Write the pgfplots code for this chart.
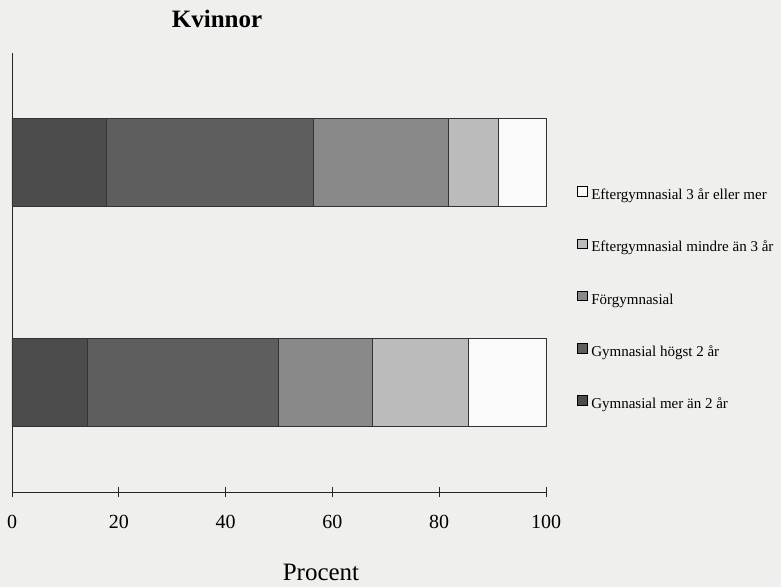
\documentclass[border=0pt]{standalone}
\usepackage{pgfplots}
\pgfplotsset{compat=1.18}
\usepackage{fontspec}
\setmainfont{Liberation Serif}
\definecolor{bg}{HTML}{EFEFED}
\definecolor{ga}{HTML}{4C4C4C}
\definecolor{gb}{HTML}{5E5E5E}
\definecolor{gc}{HTML}{898989}
\definecolor{gd}{HTML}{BBBBBB}
\definecolor{ge}{HTML}{FAFAFA}
\begin{document}
\begin{tikzpicture}[x=1pt,y=1pt]
\fill[bg] (0,0) rectangle (781,-587);
\useasboundingbox (0,0) rectangle (781,-587);
\begin{axis}[
  at={(12pt,-492pt)}, anchor=south west,
  x=5.34pt, y=1pt,
  xmin=0, xmax=100, ymin=0, ymax=439,
  xbar stacked, bar width=88pt,
  axis x line=bottom, axis y line=left,
  axis line style={-, line width=0.8pt, black!85},
  xtick={0,20,40,60,80,100}, ytick=\empty,
  major tick length=10pt, tick align=center,
  tick style={line width=0.8pt, black!85},
  xticklabel style={font=\fontsize{20}{20}\selectfont, anchor=base, yshift=-31pt, inner sep=0pt},
  /pgf/number format/assume math mode=true,
  clip=false,
  reverse legend,
  legend cell align=left,
  legend style={at={(rel axis cs:1.058,0.697)}, anchor=north west, draw=none, fill=none,
    font=\fontsize{15}{15}\selectfont, row sep=36pt, column sep=4pt, inner sep=0pt,
    nodes={inner sep=0pt, text height=10pt, text depth=3pt}},
  myleg/.style={legend image code/.code={\draw[##1, draw=black, line width=0.6pt] (0pt,0pt) rectangle (9.5pt,9.5pt);}},
]
\addplot[fill=ga, draw=black!80, line width=0.7pt, myleg] coordinates {(14.2,109.5) (17.6,330)};
\addplot[fill=gb, draw=black!80, line width=0.7pt, myleg] coordinates {(35.6,109.5) (38.8,330)};
\addplot[fill=gc, draw=black!80, line width=0.7pt, myleg] coordinates {(17.6,109.5) (25.3,330)};
\addplot[fill=gd, draw=black!80, line width=0.7pt, myleg] coordinates {(18.0,109.5) (9.4,330)};
\addplot[fill=ge, draw=black!80, line width=0.7pt, myleg] coordinates {(14.6,109.5) (8.9,330)};
\legend{Gymnasial mer än 2 år, Gymnasial högst 2 år, Förgymnasial, Eftergymnasial mindre än 3 år, Eftergymnasial 3 år eller mer}
\end{axis}
\node[font=\bfseries\fontsize{25}{25}\selectfont, anchor=base] at (217,-27) {Kvinnor};
\node[font=\fontsize{25}{25}\selectfont, anchor=base] at (321,-580) {Procent};
\end{tikzpicture}
\end{document}
